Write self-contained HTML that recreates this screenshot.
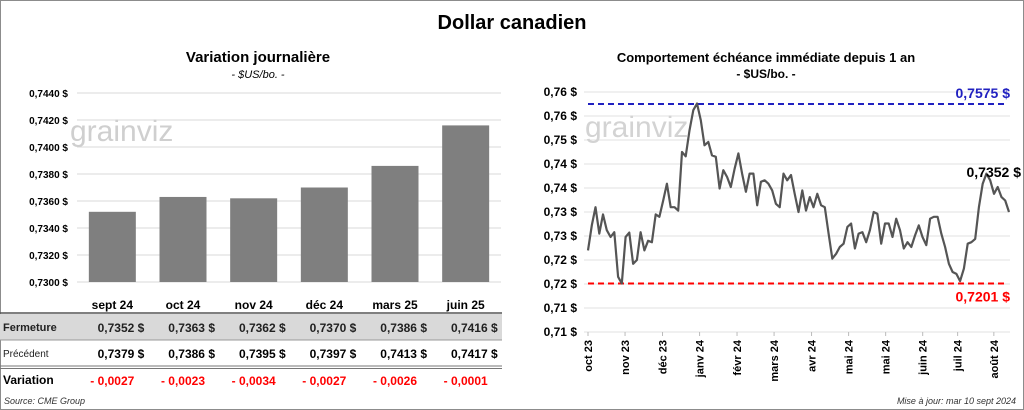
<!DOCTYPE html>
<html><head><meta charset="utf-8">
<style>
body{margin:0;background:#fff;}
svg{display:block;font-family:"Liberation Sans",sans-serif;}
</style></head>
<body>
<svg id="s" width="1024" height="410" viewBox="0 0 1024 410" xmlns="http://www.w3.org/2000/svg">
<rect x="0.5" y="0.5" width="1023" height="409" fill="#fff" stroke="#8c8c8c"/>
<text x="512" y="29" text-anchor="middle" font-size="20" font-weight="bold">Dollar canadien</text>
<text x="258" y="62" text-anchor="middle" font-size="15" font-weight="bold">Variation  journalière</text>
<text x="258" y="78" text-anchor="middle" font-size="11" font-style="italic">- $US/bo. -</text>
<text x="766" y="62" text-anchor="middle" font-size="13" font-weight="bold">Comportement échéance immédiate depuis 1 an</text>
<text x="766" y="78" text-anchor="middle" font-size="12" font-weight="bold">- $US/bo. -</text>
<g id="left"></g>
<g id="right"></g>
<g id="table"></g>
<text x="4" y="404" font-size="9" font-style="italic" fill="#333">Source: CME Group</text>
<text x="1016" y="404" text-anchor="end" font-size="9" font-style="italic" fill="#333">Mise à jour: mar 10 sept 2024</text>
</svg>
<script>
const barCats=["sept 24","oct 24","nov 24","déc 24","mars 25","juin 25"];
const closeVals=[0.7352,0.7363,0.7362,0.7370,0.7386,0.7416];
const prevVals=[0.7379,0.7386,0.7395,0.7397,0.7413,0.7417];
const varVals=[-0.0027,-0.0023,-0.0034,-0.0027,-0.0026,-0.0001];
const leftTicks=[0.730,0.732,0.734,0.736,0.738,0.740,0.742,0.744];
const lineVals=[0.7270,0.7322,0.7360,0.7305,0.7345,0.7312,0.7298,0.7308,0.7215,0.7201,0.7298,0.7307,0.7242,0.7250,0.7308,0.7270,0.7290,0.7287,0.7345,0.7340,0.7374,0.7409,0.7360,0.7360,0.7353,0.7475,0.7466,0.7520,0.7562,0.7576,0.7541,0.7489,0.7496,0.7468,0.7465,0.7399,0.7437,0.7423,0.7402,0.7440,0.7472,0.7430,0.7392,0.7430,0.7430,0.7364,0.7413,0.7416,0.7409,0.7395,0.7367,0.7360,0.7430,0.7416,0.7427,0.7388,0.7350,0.7395,0.7353,0.7381,0.7360,0.7388,0.7364,0.7360,0.7305,0.7253,0.7263,0.7277,0.7284,0.7319,0.7326,0.7274,0.7305,0.7308,0.7287,0.7312,0.7350,0.7346,0.7284,0.7326,0.7326,0.7298,0.7336,0.7312,0.7274,0.7287,0.7277,0.7301,0.7322,0.7298,0.7281,0.7336,0.7340,0.7340,0.7305,0.7277,0.7242,0.7225,0.7221,0.7206,0.7232,0.7284,0.7287,0.7294,0.7360,0.7409,0.7430,0.7416,0.7388,0.7402,0.7381,0.7374,0.7350];
const rightTicks=[0.71,0.715,0.72,0.725,0.73,0.735,0.74,0.745,0.75,0.755,0.76];
const monthLabels=["oct 23","nov 23","déc 23","janv 24","févr 24","mars 24","avr 24","mai 24","mai 24","juin 24","juil 24","août 24"];
const monthFrac=[0,0.088,0.177,0.265,0.354,0.442,0.531,0.619,0.707,0.795,0.878,0.964];
const highVal=0.7575, lowVal=0.7201, lastLabel="0,7352 $";

const NS="http://www.w3.org/2000/svg";
function mk(p,t,a,txt){const e=document.createElementNS(NS,t);for(const k in a)e.setAttribute(k,a[k]);if(txt!==undefined)e.textContent=txt;p.appendChild(e);return e;}
const fr=(v,d)=>v.toFixed(d).replace('.',',');

// left chart
const L=document.getElementById('left');
const lx0=77,lx1=501,ly=v=>282-(v-0.730)/0.002*27;
leftTicks.forEach(t=>{
 const g=mk(L,'line',{x1:lx0,x2:lx1,y1:ly(t),y2:ly(t),stroke:'#d9d9d9','stroke-width':1});
 
 
 const tx=mk(L,'text',{x:68,y:ly(t)+4,'text-anchor':'end','font-size':10,'font-weight':'bold'},fr(t,4)+' $');
 
 
});
const wm1=mk(L,'text',{x:70,y:141,'font-size':30,fill:'#cfcfcf'},'grainviz');


const bw=(lx1-lx0)/barCats.length;
closeVals.forEach((v,i)=>{
 const cx=lx0+bw*(i+0.5);
 const r=mk(L,'rect',{x:cx-23.5,y:ly(v),width:47,height:282-ly(v),fill:'#7f7f7f'});
 
 
});

// table
const T=document.getElementById('table');
mk(T,'rect',{x:0,y:314,width:502,height:26,fill:'#d9d9d9'});
mk(T,'line',{x1:0,x2:502,y1:313,y2:313,stroke:'#555','stroke-width':1.5});
mk(T,'line',{x1:0,x2:502,y1:340,y2:340,stroke:'#999','stroke-width':1});
mk(T,'line',{x1:0,x2:502,y1:366,y2:366,stroke:'#777','stroke-width':1});
mk(T,'line',{x1:0,x2:502,y1:368.5,y2:368.5,stroke:'#777','stroke-width':1});
mk(T,'text',{x:3,y:331,'font-size':11,'font-weight':'bold',fill:'#222'},'Fermeture');
mk(T,'text',{x:3,y:357,'font-size':10,fill:'#222'},'Précédent');
mk(T,'text',{x:3,y:384,'font-size':12,'font-weight':'bold'},'Variation');
barCats.forEach((c,i)=>{
 const cx=lx0+bw*(i+0.5);
 const h=mk(T,'text',{x:cx,y:309,'text-anchor':'middle','font-size':12,'font-weight':'bold'},c);
 
 
 const a=mk(T,'text',{x:cx+32,y:332,'text-anchor':'end','font-size':12,'font-weight':'bold',fill:'#222'},fr(closeVals[i],4)+'  $');
 
 
 const b=mk(T,'text',{x:cx+32,y:358,'text-anchor':'end','font-size':12,'font-weight':'bold'},fr(prevVals[i],4)+'  $');
 
 
 const d=varVals[i];
 const v=mk(T,'text',{x:cx,y:385,'text-anchor':'middle','font-size':12,'font-weight':'bold',fill:'#ff0000'},(d<0?'- ':'')+fr(Math.abs(d),4));
 
 
});

// right chart
const R=document.getElementById('right');
const rx0=588,rx1=1009,ry=v=>332-(v-0.71)/0.005*24;
rightTicks.forEach(t=>{
 const g=mk(R,'line',{x1:rx0-4,x2:1010,y1:ry(t),y2:ry(t),stroke:'#e0e0e0','stroke-width':1});
 
 
 const tx=mk(R,'text',{x:577,y:ry(t)+4,'text-anchor':'end','font-size':12,'font-weight':'bold'},fr(t,2)+' $');
 
 
});
const wm2=mk(R,'text',{x:585,y:137,'font-size':30,fill:'#d3d3d3'},'grainviz');


monthLabels.forEach((m,i)=>{
 const x=rx0+monthFrac[i]*(rx1-rx0);
 mk(R,'line',{x1:x,x2:x,y1:332,y2:336,stroke:'#bbb'});
 const t=mk(R,'text',{x:0,y:0,'text-anchor':'end','font-size':11,'font-weight':'bold',transform:`translate(${x+4},340) rotate(-90)`},m);
 
 
});
const hl=mk(R,'line',{x1:rx0,x2:1008,y1:ry(highVal),y2:ry(highVal),stroke:'#2020c0','stroke-width':2,'stroke-dasharray':'6,4'});


const ll=mk(R,'line',{x1:rx0,x2:1008,y1:ry(lowVal),y2:ry(lowVal),stroke:'#ff0000','stroke-width':2,'stroke-dasharray':'6,4'});


const hlab=mk(R,'text',{x:1010,y:ry(highVal)-6,'text-anchor':'end','font-size':14,'font-weight':'bold',fill:'#2020c0'},fr(highVal,4)+' $');


const llab=mk(R,'text',{x:1010,y:ry(lowVal)+18,'text-anchor':'end','font-size':14,'font-weight':'bold',fill:'#ff0000'},fr(lowVal,4)+' $');


const n=lineVals.length;
const pts=lineVals.map((v,i)=>(rx0+i/(n-1)*(rx1-rx0)).toFixed(1)+','+ry(v).toFixed(1)).join(' ');
const pl=mk(R,'polyline',{points:pts,fill:'none',stroke:'#555','stroke-width':2.2,'stroke-linejoin':'round'});


const lab=mk(R,'text',{x:1021,y:177,'text-anchor':'end','font-size':14,'font-weight':'bold'},lastLabel);


</script>
</body></html>
